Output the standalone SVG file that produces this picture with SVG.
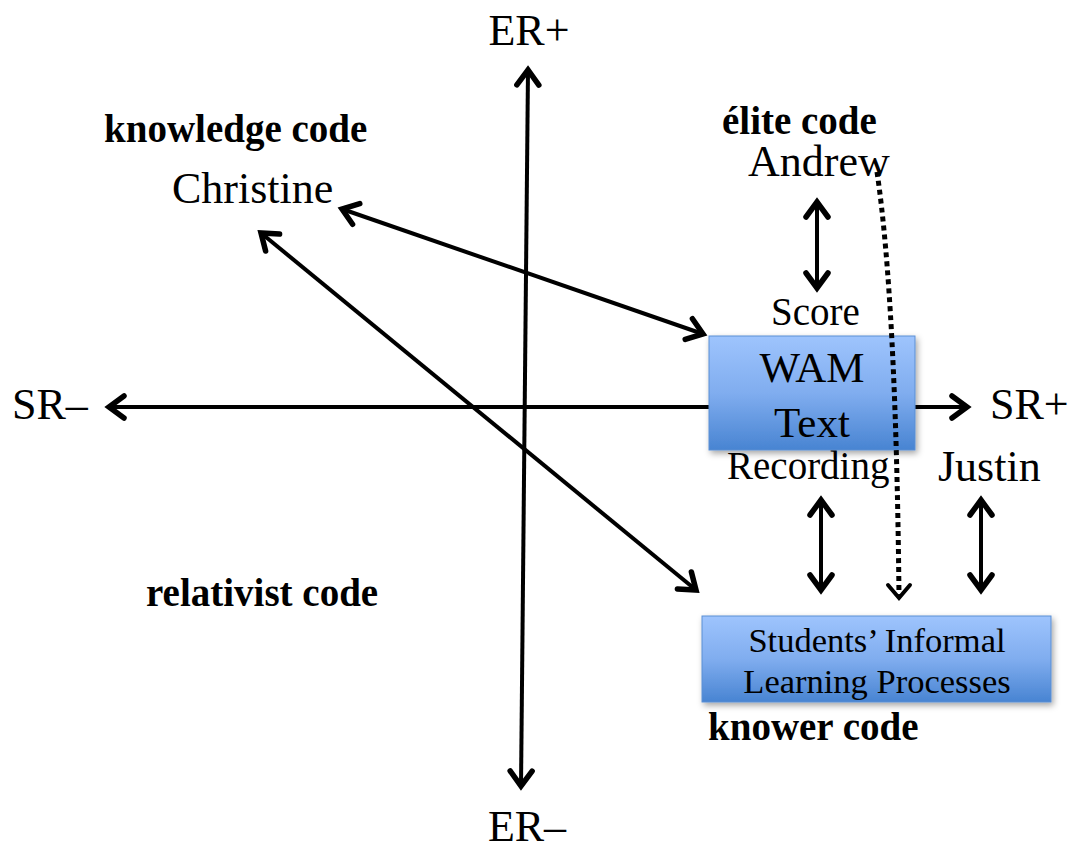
<svg xmlns="http://www.w3.org/2000/svg" width="1070" height="849" viewBox="0 0 1070 849">
  <style>
    .lbl { font-family: "Liberation Serif", "Times New Roman", serif; fill: #000; }
    .big { font-size: 44px; }
    .mid { font-size: 39px; }
    .wam { font-size: 43px; }
    .box { font-size: 34.5px; }
    .code { font-family: "Liberation Serif", "Times New Roman", serif; font-weight: bold; font-size: 39px; fill: #000; }
    .ln { fill: none; stroke: #000; stroke-width: 4; marker-end: url(#chev); marker-start: url(#chev); }
    .dot { fill: none; stroke: #000; stroke-width: 5; stroke-dasharray: 5 4; }
    .node { stroke: #5b8fd3; stroke-width: 1; filter: url(#shadow); }
  </style>
  <defs>
    <marker id="chev" markerUnits="userSpaceOnUse" viewBox="-22 -16 26 32" markerWidth="26" markerHeight="32" refX="0" refY="0" orient="auto-start-reverse" overflow="visible">
      <path d="M-15,-11 L0,0 L-15,11" fill="none" stroke="#000" stroke-width="5.5" stroke-linecap="round" stroke-linejoin="miter"/>
    </marker>
    <linearGradient id="blue" x1="0" y1="0" x2="0" y2="1">
      <stop offset="0" stop-color="#9ec4fd"/>
      <stop offset="0.5" stop-color="#80adef"/>
      <stop offset="1" stop-color="#4884d2"/>
    </linearGradient>
    <filter id="shadow" x="-10%" y="-10%" width="125%" height="130%">
      <feDropShadow dx="2" dy="3" stdDeviation="3" flood-color="#000" flood-opacity="0.35"/>
    </filter>
  </defs>

  <!-- axes and solid connectors -->
  <g id="connectors">
    <line class="ln" x1="528" y1="70" x2="521" y2="786"/>
    <line class="ln" x1="109" y1="407" x2="967" y2="407"/>
    <line class="ln" x1="342" y1="209" x2="703" y2="334"/>
    <line class="ln" x1="261" y1="233" x2="696" y2="590"/>
    <line class="ln" x1="817" y1="202" x2="817" y2="288"/>
    <line class="ln" x1="821" y1="500" x2="821" y2="590"/>
    <line class="ln" x1="981" y1="500" x2="981" y2="590"/>
  </g>

  <!-- WAM text box -->
  <g id="wam">
    <rect class="node" x="709" y="336" width="206" height="114" fill="url(#blue)"/>
    <text class="lbl wam" x="812" y="382" text-anchor="middle">WAM</text>
    <text class="lbl wam" x="812" y="437" text-anchor="middle">Text</text>
  </g>

  <!-- dotted link from Andrew down to informal learning, drawn over the box -->
  <g id="dotted-link">
    <path class="dot" d="M877,172 Q896,300 899,596"/>
    <path d="M888,585 L899,598 L910,585" fill="none" stroke="#000" stroke-width="4" stroke-linecap="round"/>
  </g>

  <!-- informal learning box -->
  <g id="informal">
    <rect class="node" x="702" y="616" width="349" height="86" fill="url(#blue)"/>
    <text class="lbl box" x="877" y="652" text-anchor="middle">Students’ Informal</text>
    <text class="lbl box" x="877" y="693" text-anchor="middle">Learning Processes</text>
  </g>

  <!-- axis labels -->
  <g id="axis-labels">
    <text class="lbl big" x="529" y="45" text-anchor="middle">ER+</text>
    <text class="lbl big" x="527" y="841" text-anchor="middle">ER–</text>
    <text class="lbl big" x="12" y="419">SR–</text>
    <text class="lbl big" x="990" y="419">SR+</text>
  </g>

  <!-- people and sources -->
  <g id="christine"><text class="lbl big" x="172" y="203">Christine</text></g>
  <g id="andrew"><text class="lbl big" x="748" y="176">Andrew</text></g>
  <g id="justin"><text class="lbl big" x="938" y="481">Justin</text></g>
  <g id="score"><text class="lbl mid" x="771" y="325">Score</text></g>
  <g id="recording"><text class="lbl mid" x="727" y="479">Recording</text></g>

  <!-- code labels -->
  <g id="codes">
    <text class="code" x="104" y="142">knowledge code</text>
    <text class="code" x="722" y="134">élite code</text>
    <text class="code" x="146" y="606">relativist code</text>
    <text class="code" x="708" y="740">knower code</text>
  </g>
</svg>
